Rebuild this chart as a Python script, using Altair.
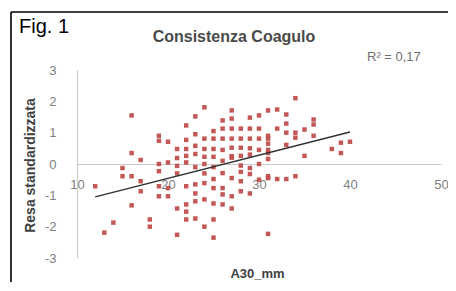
import altair as alt
import pandas as pd

# A30_mm (x) and standardised yield (y)
xs = [12, 13, 14, 15, 15, 16, 16, 16, 16, 17, 17, 17, 18, 18,
      19, 19, 19, 19, 19, 19, 20, 20, 20,
      21, 21, 21, 21, 21,
      22, 22, 22, 22, 22, 22, 22, 22,
      23, 23, 23, 23, 23, 23, 23,
      24, 24, 24, 24, 24, 24, 24,
      25, 25, 25, 25, 25, 25, 25, 25,
      26, 26, 26, 26, 26, 26, 26,
      27, 27, 27, 27, 27, 27, 27, 27,
      28, 28, 28, 28, 28, 28,
      29, 29, 29, 29, 29, 29,
      30, 30, 30, 30,
      31, 31, 31, 31, 31, 31, 31, 31, 31,
      32, 32, 32,
      33, 33, 33, 33, 33,
      34, 34, 34, 34,
      35, 35,
      36, 36, 36,
      38, 39, 39, 40,
      20, 22, 23, 24, 25, 26, 27, 28, 29, 30, 30, 21, 24, 26, 28, 29, 25, 27, 23, 31]
ys = [-0.71, -2.19, -1.87, -0.13, -0.39, 1.55, 0.35, -0.39, -1.32, 0.13, -0.55, -0.87, -1.77, -2.0,
      0.9, 0.74, 0.0, -0.23, -0.71, -1.03, 0.71, -0.77, -1.03,
      0.48, 0.19, -0.06, -1.42, -2.26,
      1.23, 0.77, 0.48, 0.26, -0.71, -1.29, -1.52, -1.77,
      1.52, 0.58, 0.32, -0.65, -0.94, -1.19, -1.74,
      1.81, 0.81, 0.48, 0.23, -0.61, -1.13, -2.0,
      0.81, 0.48, 0.23, -0.48, -0.77, -1.26, -1.77, -2.35,
      1.39, 1.13, 0.81, -0.29, -0.77, -0.97, -1.29,
      1.71, 1.45, 1.13, 0.81, 0.52, -0.45, -1.03, -1.42,
      1.13, 0.81, 0.52, 0.26, -0.55, -0.87,
      1.48, 1.13, 0.81, -0.13, -0.32, -0.94,
      1.55, 1.13, 0.81, 0.0,
      1.71, 0.9, 0.81, 0.65, 0.35, 0.16, -0.39, -0.45, -2.23,
      1.74, 1.13, -0.48,
      1.58, 1.29, 1.0, 0.61, -0.48,
      2.1, 1.0, 0.84, -0.39,
      1.1, 0.26,
      1.42, 1.26, 0.9,
      0.48, 0.68, 0.35, 0.71,
      0.05, 0.05, -0.1, 0.0, -0.1, 0.1, 0.2, -0.05, 0.3, 0.45, -0.5, -0.3, -0.3, 0.45, -0.25, 0.5, 1.05, 0.25, 0.95, 0.45]

# trend line end points
trend_x = [12, 40]
trend_y = [-1.05, 1.02]

x_ticks = [10, 20, 30, 40, 50]
y_ticks = [-3, -2, -1, 0, 1, 2, 3]

pts = pd.DataFrame({"x": xs, "y": ys})
trend = pd.DataFrame({"x": trend_x, "y": trend_y})

W, H = 364, 188
FONT = "Liberation Sans"
GRAY = "#808080"

xscale = alt.Scale(domain=[10, 50], nice=False, zero=False)
yscale = alt.Scale(domain=[-3, 3], nice=False, zero=False)

xaxis = alt.Axis(values=x_ticks, offset=-94, ticks=False, tickSize=0, labelPadding=14,
                 grid=False, labelFlush=False,
                 labelOverlap=False, labelBound=False, labelExpr="'' + datum.value",
                 domainColor="#c8c8c8", labelColor=GRAY, labelFont=FONT, labelFontSize=13,
                 title="A30_mm", titleFont=FONT, titleFontSize=13, titleFontWeight="bold",
                 titleColor="#404040", titleX=180, titleY=109, titleAnchor="middle",
                 titleAlign="center", titleBaseline="middle")
yaxis = alt.Axis(values=y_ticks, ticks=False, tickSize=0, labelPadding=21, grid=False,
                 labelFlush=False,
                 labelOverlap=False, labelBound=False, labelExpr="'' + datum.value",
                 labelAlign="right", labelBaseline="middle",
                 domainColor="#c8c8c8", labelColor=GRAY, labelFont=FONT, labelFontSize=13,
                 title="Resa standardizzata", titleFont=FONT, titleFontSize=14,
                 titleFontWeight="bold", titleColor="#404040", titleX=-47, titleY=95,
                 titleAngle=-90, titleAlign="center", titleBaseline="middle")

points = alt.Chart(pts).mark_square(size=20, color="#C0504D", opacity=0.95).encode(
    x=alt.X("x:Q", scale=xscale, axis=xaxis),
    y=alt.Y("y:Q", scale=yscale, axis=yaxis),
)

line = alt.Chart(trend).mark_line(color="#303030", strokeWidth=1.4).encode(
    x=alt.X("x:Q", scale=xscale, axis=xaxis),
    y=alt.Y("y:Q", scale=yscale, axis=yaxis),
)

border_top = alt.Chart(pd.DataFrame({"a": [0]})).mark_rule(color="black", strokeWidth=1.6).encode(
    x=alt.value(-66), x2=alt.value(371), y=alt.value(-58))
border_left = alt.Chart(pd.DataFrame({"a": [0]})).mark_rule(color="black", strokeWidth=1.6).encode(
    x=alt.value(-66), y=alt.value(-58), y2=alt.value(H + 24))

fig = alt.Chart(pd.DataFrame({"t": ["Fig. 1"]})).mark_text(
    font=FONT, fontSize=20, color="black", align="left", baseline="alphabetic").encode(
    x=alt.value(-58), y=alt.value(-37), text="t:N")
title = alt.Chart(pd.DataFrame({"t": ["Consistenza Coagulo"]})).mark_text(
    font=FONT, fontSize=16, fontWeight="bold", color="#4a4a4a", align="center",
    baseline="middle").encode(x=alt.value(157), y=alt.value(-33), text="t:N")
r2 = alt.Chart(pd.DataFrame({"t": ["R² = 0,17"]})).mark_text(
    font=FONT, fontSize=13, color="#707070", align="left", baseline="middle").encode(
    x=alt.value(290), y=alt.value(-13), text="t:N")

chart = alt.layer(points, line, border_top, border_left, fig, title, r2).properties(
    width=W, height=H,
    autosize=alt.AutoSizeParams(type="none"),
    padding={"left": 69, "top": 62, "right": 7, "bottom": 24},
).configure_view(stroke=None).configure_axis(labelOverlap=False)

chart.save("out.html", embed_options={"renderer": "svg", "actions": False})
